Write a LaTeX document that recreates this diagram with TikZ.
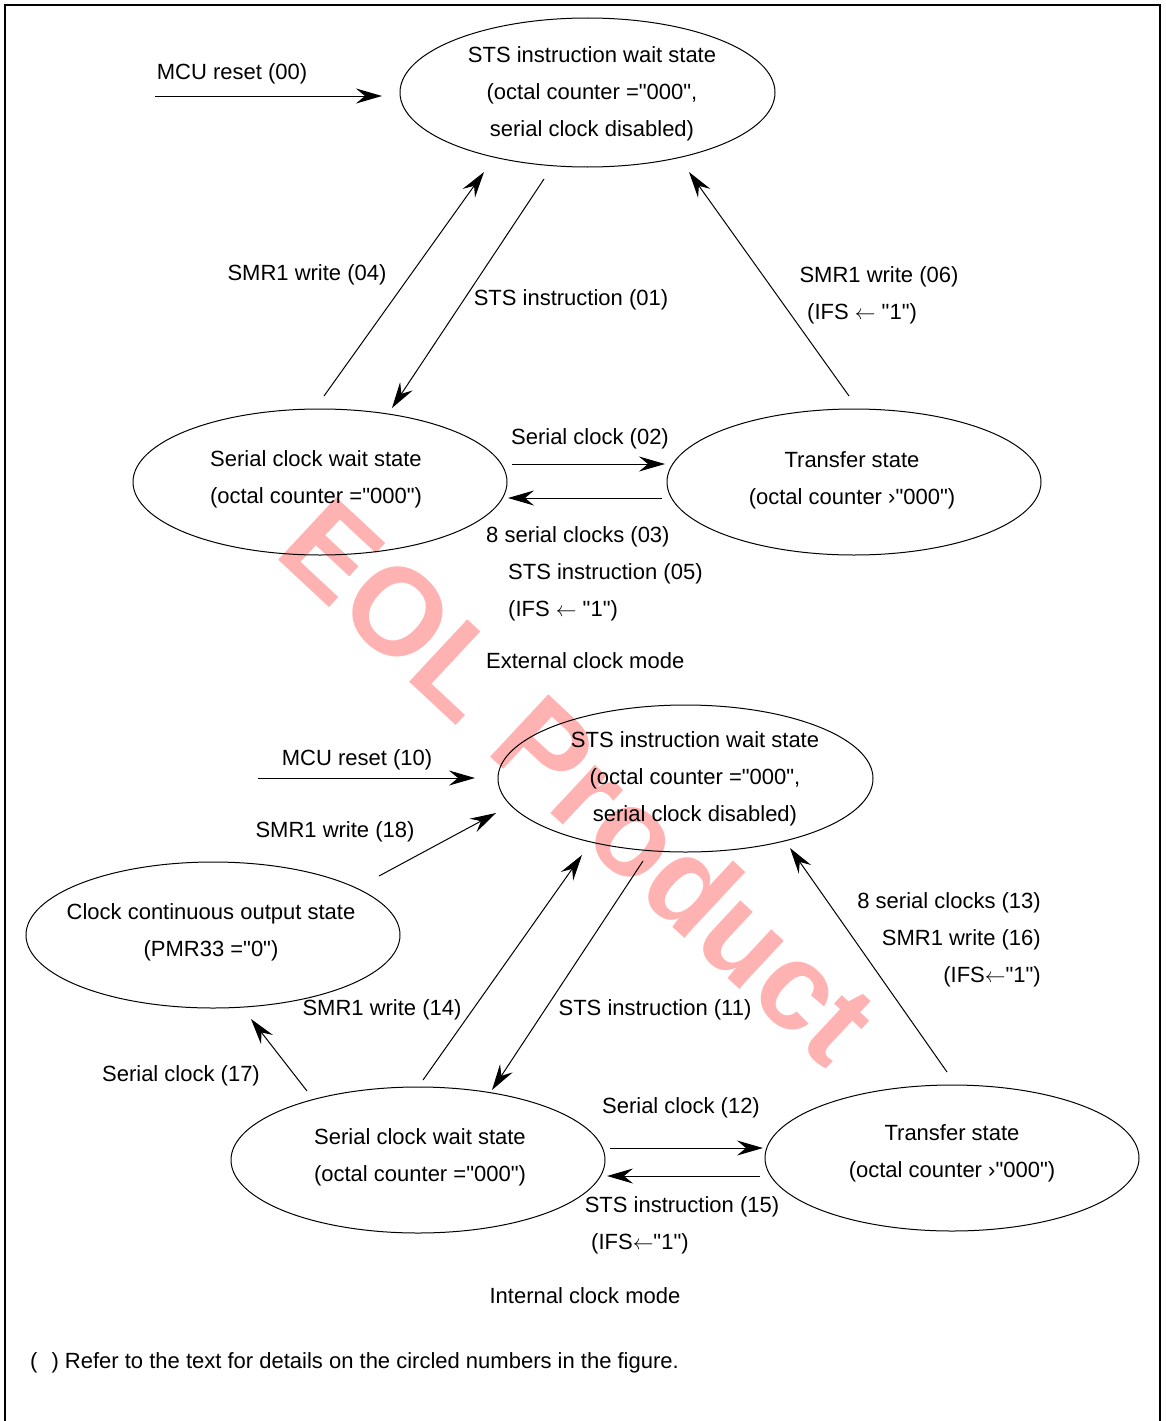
\documentclass[tikz,border=0pt]{standalone}
\usepackage{fontspec}
\setmainfont{Liberation Sans}[Ligatures=TeXOff]
\usetikzlibrary{arrows.meta,shapes.geometric}
\begin{document}
\begin{tikzpicture}[x=1pt,y=-1pt,
  every node/.style={font=\fontsize{22}{37}\selectfont, inner sep=0pt},
  st/.style={draw, ellipse, line width=1pt, minimum width=374pt, minimum height=146pt},
  txt/.style={align=center, yshift=-3pt},
  lbl/.style={text height=16pt, text depth=5pt, yshift=-3pt},
  arr/.style={line width=1pt, -{Stealth[length=26pt,width=15pt,inset=9pt]}},
  wm/.style={font=\fontsize{124}{124}\selectfont\bfseries, text=red!30, rotate=-43}
]
\useasboundingbox (0,0) rectangle (1166,1421);
% watermark
\node[wm] (wmark) at (580,780) {EOL Product};
% frame
\draw[line width=2pt] (5,1421) -- (5,5) -- (1160,5) -- (1160,1421);

% ===== External clock mode =====
\node[st, minimum width=375pt, minimum height=149pt] (e1) at (587.5,92.5) {};
\node[txt] (t1) at (592,91) {STS instruction wait state\\(octal counter ="000",\\serial clock disabled)};
\node[st] (e2) at (320,482) {};
\node[txt] (t2) at (316,476.5) {Serial clock wait state\\(octal counter ="000")};
\node[st] (e3) at (854,482) {};
\node[txt] (t3) at (852,477) {Transfer state\\(octal counter ›"000")};

\coordinate (m0) at (155,96);
\draw[arr] (m0) -- ([shift={(-205.5,3.5)}]e1.center);
\node[lbl] (l00) at (232,71) {MCU reset (00)};

\draw[arr] ([shift={(4,-86)}]e2.center) -- ([shift={(-103.5,79.5)}]e1.center);
\node[lbl] (l04) at (307,272) {SMR1 write (04)};
\draw[arr] ([shift={(-43.5,86.5)}]e1.center) -- ([shift={(72,-74)}]e2.center);
\node[lbl] (l01) at (571,297) {STS instruction (01)};
\draw[arr] ([shift={(-5,-86)}]e3.center) -- ([shift={(101.5,79.5)}]e1.center);
\node[lbl] (l06) at (879,274) {SMR1 write (06)};
\node[lbl, anchor=west] (l06b) at (807,311) {(IFS $\leftarrow$ "1")};

\draw[arr] ([shift={(192,-18)}]e2.center) -- ([shift={(-189,-18)}]e3.center);
\node[lbl] (l02) at (590,436) {Serial clock (02)};
\draw[arr] ([shift={(-192,16)}]e3.center) -- ([shift={(188,16)}]e2.center);
\node[lbl, anchor=west] (l03) at (486,534) {8 serial clocks (03)};
\node[lbl, anchor=west] (l05) at (508,571) {STS instruction (05)};
\node[lbl, anchor=west] (l05b) at (508,608) {(IFS $\leftarrow$ "1")};
\node[lbl, anchor=west] (ext) at (486,660) {External clock mode};

% ===== Internal clock mode =====
\node[st, minimum width=375pt, minimum height=147pt] (e4) at (685.5,778.5) {};
\node[txt] (t4) at (695,775.5) {STS instruction wait state\\(octal counter ="000",\\serial clock disabled)};
\node[st] (e5) at (213,935) {};
\node[txt] (t5) at (211,929) {Clock continuous output state\\(PMR33 ="0")};
\node[st] (e6) at (418,1160) {};
\node[txt] (t6) at (420,1154) {Serial clock wait state\\(octal counter ="000")};
\node[st] (e7) at (952,1158) {};
\node[txt] (t7) at (952,1150.5) {Transfer state\\(octal counter ›"000")};

\coordinate (m1) at (258,778);
\draw[arr] (m1) -- ([shift={(-210.5,-0.5)}]e4.center);
\node[lbl] (l10) at (357,757) {MCU reset (10)};

\draw[arr] ([shift={(166,-59)}]e5.center) -- ([shift={(-189.5,34.5)}]e4.center);
\node[lbl] (l18) at (335,829) {SMR1 write (18)};

\draw[arr] ([shift={(5,-80)}]e6.center) -- ([shift={(-103.5,76.5)}]e4.center);
\node[lbl] (l14) at (382,1007) {SMR1 write (14)};
\draw[arr] ([shift={(-42.5,82.5)}]e4.center) -- ([shift={(74,-70)}]e6.center);
\node[lbl] (l11) at (655,1007) {STS instruction (11)};

\draw[arr] ([shift={(-5,-86)}]e7.center) -- ([shift={(104.5,69.5)}]e4.center);
\node[lbl, anchor=east] (l13) at (1041,900) {8 serial clocks (13)};
\node[lbl, anchor=east] (l16) at (1041,937) {SMR1 write (16)};
\node[lbl, anchor=east] (l16b) at (1041,974) {(IFS$\leftarrow$"1")};

\draw[arr] ([shift={(-111,-69)}]e6.center) -- ([shift={(38,84)}]e5.center);
\node[lbl] (l17) at (181,1073) {Serial clock (17)};

\draw[arr] ([shift={(192,-12)}]e6.center) -- ([shift={(-189,-10)}]e7.center);
\node[lbl] (l12) at (681,1105) {Serial clock (12)};
\draw[arr] ([shift={(-192,18)}]e7.center) -- ([shift={(189,16)}]e6.center);
\node[lbl] (l15) at (682,1204) {STS instruction (15)};
\node[lbl, anchor=west] (l15b) at (591,1241) {(IFS$\leftarrow$"1")};

\node[lbl] (int) at (585,1295) {Internal clock mode};
\node[lbl, anchor=west] (note) at (30,1360) {(\hspace{14pt}) Refer to the text for details on the circled numbers in the figure.};
\end{tikzpicture}
\end{document}
